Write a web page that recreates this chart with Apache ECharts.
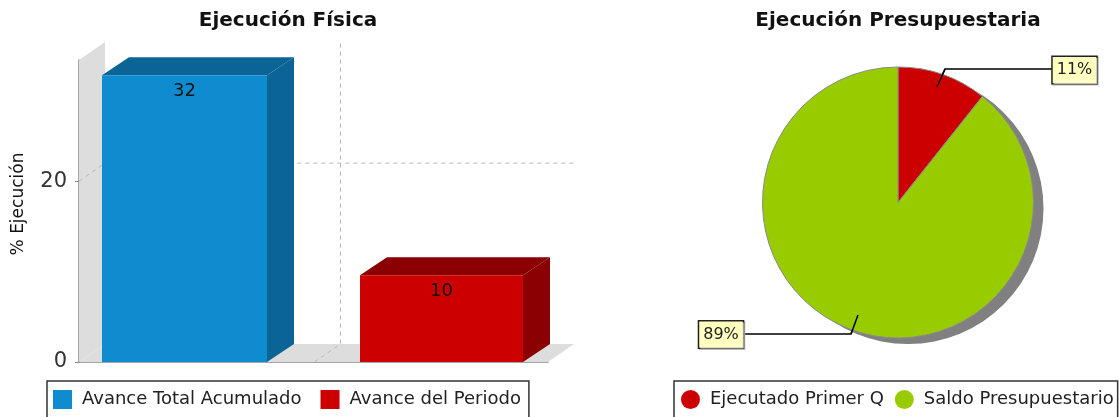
<!DOCTYPE html>
<html>
<head>
<meta charset="utf-8">
<style>html,body{margin:0;padding:0;background:#fff}#c{width:1119px;height:417px}</style>
<script src="https://cdn.jsdelivr.net/npm/echarts@6/dist/echarts.min.js"></script>
</head>
<body>
<div id="c"></div>
<script>
const categories = [''];
const barNames = ['Avance Total Acumulado', 'Avance del Periodo'];
const barValues = [31.7, 9.6];
const yTicks = [0, 20];
const pieNames = ['Ejecutado Primer Q', 'Saldo Presupuestario'];
const pieValues = [10.7, 89.3];

const FONT = '"DejaVu Sans"';
const barFace = ['#0E8CCF', '#CC0000'];
const barDark = ['#0A6496', '#8B0000'];
const barSpan = [[-211.5, -46.5], [46.5, 209.5]];
const DX = 26, DY = 18, BAR_DX = 27;
const yMax = 33.4;

function backdrop(params, api) {
  const o = api.coord([0, 0]);
  const top = api.coord([0, yMax])[1];
  const cs = params.coordSys;
  const l = cs.x, r = cs.x + cs.width, b = o[1];
  const fill = { fill: '#DDDDDD' };
  const grid = { stroke: '#B8B8B8', lineWidth: 1, lineDash: [4, 4], fill: null };
  const children = [
    { type: 'polygon', shape: { points: [[l, b], [l, top], [l + DX, top - DY], [l + DX, b - DY]] }, style: fill },
    { type: 'polygon', shape: { points: [[l, b], [l + DX, b - DY], [r + DX, b - DY], [r, b]] }, style: fill },
    { type: 'polyline', shape: { points: [[o[0] + 1, b], [o[0] + 1 + DX, b - DY], [o[0] + 1 + DX, top - DY]] }, style: grid }
  ];
  yTicks.slice(1).forEach(t => {
    const y = api.coord([0, t])[1];
    children.push({ type: 'polyline', shape: { points: [[l, y], [l + DX, y - DY], [r + DX, y - DY]] }, style: grid });
  });
  return { type: 'group', children };
}

function bar3d(i) {
  return function (params, api) {
    const v = api.value(1);
    const c = api.coord([0, v]);
    const base = api.coord([0, 0])[1];
    const x0 = c[0] + barSpan[i][0], x1 = c[0] + barSpan[i][1], y = c[1];
    const dark = { fill: barDark[i] };
    return {
      type: 'group',
      children: [
        { type: 'polygon', shape: { points: [[x0, y], [x0 + BAR_DX, y - DY], [x1 + BAR_DX, y - DY], [x1, y]] }, style: dark },
        { type: 'polygon', shape: { points: [[x1, y], [x1 + BAR_DX, y - DY], [x1 + BAR_DX, base - DY], [x1, base]] }, style: dark },
        { type: 'rect', shape: { x: x0, y: y, width: x1 - x0, height: base - y }, style: { fill: barFace[i] } },
        { type: 'text', style: { text: String(Math.round(v)), x: (x0 + x1) / 2, y: y + 16, align: 'center', verticalAlign: 'middle', fill: '#111', font: '18px ' + FONT } }
      ]
    };
  };
}

const labelSpots = [
  { x: 1074.5, y: 70, line: [[937, 87], [945, 69], [1053, 69]] },
  { x: 721, y: 334.5, line: [[858, 315], [851, 334], [743, 334]] }
];

function leaderTicks() {
  return {
    type: 'group',
    children: labelSpots.map(s => ({
      type: 'line',
      shape: { x1: s.line[0][0], y1: s.line[0][1], x2: s.line[1][0], y2: s.line[1][1] },
      style: { stroke: '#000', lineWidth: 1.5 }
    }))
  };
}

const legendBase = {
  orient: 'horizontal', top: 381, selectedMode: false,
  borderColor: '#333', borderWidth: 1.5, backgroundColor: '#fff',
  itemHeight: 19, itemWidth: 19,
  itemStyle: { borderWidth: 0 },
  textStyle: { fontFamily: FONT, fontSize: 18, color: '#222', padding: [0, 0, 0, 5] }
};

const chart = echarts.init(document.getElementById('c'));
chart.setOption({
  animation: false,
  backgroundColor: '#fff',
  title: [
    { text: 'Ejecución Física', left: 283, top: 6, textAlign: 'center', textStyle: { fontFamily: FONT, fontSize: 20, fontWeight: 'bold', color: '#111' } },
    { text: 'Ejecución Presupuestaria', left: 893, top: 6, textAlign: 'center', textStyle: { fontFamily: FONT, fontSize: 20, fontWeight: 'bold', color: '#111' } }
  ],
  legend: [
    Object.assign({}, legendBase, { left: 47, itemGap: 19, padding: [9, 8, 9, 6], data: barNames.map(n => ({ name: n, icon: 'rect' })) }),
    Object.assign({}, legendBase, { left: 674, itemGap: 11, padding: [9, 4, 9, 7], data: pieNames.map(n => ({ name: n, icon: 'circle' })) })
  ],
  grid: { left: 79, top: 60, width: 469, height: 302, containLabel: false },
  xAxis: {
    type: 'category', data: categories,
    axisLine: { lineStyle: { color: '#888', width: 1.5 } },
    axisTick: { alignWithLabel: true, length: 5, lineStyle: { color: '#888' } },
    axisLabel: { show: false }, splitLine: { show: false }
  },
  yAxis: {
    type: 'value', min: 0, max: yMax, interval: 20,
    name: '% Ejecución', nameLocation: 'middle', nameGap: 52, nameRotate: 90,
    nameTextStyle: { fontFamily: FONT, fontSize: 17, color: '#111', padding: [0, 0, 0, 14] },
    axisLine: { show: true, lineStyle: { color: '#888', width: 1.5 } },
    axisTick: { show: true, length: 4, lineStyle: { color: '#888' } },
    axisLabel: { fontFamily: FONT, fontSize: 21, color: '#333', margin: 12, showMaxLabel: false },
    splitLine: { show: false }
  },
  series: [
    { type: 'custom', name: 'fondo', silent: true, z: 1, renderItem: backdrop, data: [[0, 0]], encode: { x: 0, y: 1 } },
    { type: 'custom', name: barNames[0], z: 2, renderItem: bar3d(0), data: [[0, barValues[0]]], encode: { x: 0, y: 1 }, itemStyle: { color: barFace[0] } },
    { type: 'custom', name: barNames[1], z: 2, renderItem: bar3d(1), data: [[0, barValues[1]]], encode: { x: 0, y: 1 }, itemStyle: { color: barFace[1] } },
    {
      type: 'pie', name: 'sombra', silent: true, z: 1, center: [908, 208.5], radius: 135.5,
      label: { show: false }, labelLine: { show: false },
      itemStyle: { color: '#808080' },
      data: [{ name: 'sombra', value: pieValues[0] + pieValues[1] }]
    },
    {
      type: 'pie', name: 'Ejecución Presupuestaria', z: 2, center: [898, 202.5], radius: 135.5,
      startAngle: 90, clockwise: true,
      itemStyle: { borderColor: '#8a8a8a', borderWidth: 1 },
      data: [
        { name: pieNames[0], value: pieValues[0], itemStyle: { color: '#CC0000' } },
        { name: pieNames[1], value: pieValues[1], itemStyle: { color: '#99CC00' } }
      ],
      label: {
        show: true, formatter: p => Math.round(p.value) + '%',
        fontFamily: FONT, fontSize: 16, color: '#222',
        backgroundColor: '#FFFFC0', borderColor: '#222', borderWidth: 1.5,
        padding: [5, 4, 5, 4],
        shadowColor: '#bbb', shadowOffsetX: 1, shadowOffsetY: 1, shadowBlur: 0
      },
      labelLine: { show: true, showAbove: true, minTurnAngle: 0, maxSurfaceAngle: 0, lineStyle: { color: '#000', width: 1.5 } },
      labelLayout: p => {
        const s = labelSpots[p.dataIndex];
        return { x: s.x, y: s.y, align: 'center', verticalAlign: 'middle', labelLinePoints: s.line };
      }
    },
    { type: 'custom', name: 'guias', coordinateSystem: 'none', silent: true, z: 3, renderItem: leaderTicks, data: [[0]] }
  ]
});
</script>
</body>
</html>
